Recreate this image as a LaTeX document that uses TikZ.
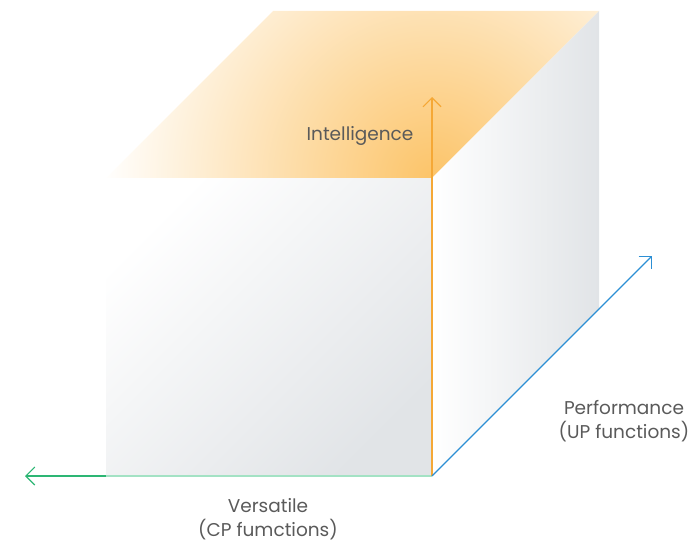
\documentclass[tikz,border=0pt]{standalone}
\usepackage{fontspec}
\setmainfont{Poppins}
\usetikzlibrary{arrows.meta}

\definecolor{facegray}{HTML}{E1E4E7}
\definecolor{glow}{HTML}{FCC469}
\definecolor{axisorange}{HTML}{F5A836}
\definecolor{axisblue}{HTML}{2C8FD4}
\definecolor{axisgreen}{HTML}{2DB674}
\definecolor{edgegreen}{HTML}{A3E2C4}
\definecolor{labelgray}{HTML}{5A5A5A}

\tikzset{
  axisarrow/.style={line width=1.1pt, -{Straight Barb[length=9pt,width=18pt,line width=1.1pt]}},
  axislabel/.style={text=labelgray, font=\fontsize{18.5}{24}\selectfont, align=center, inner sep=0pt}
}

\begin{document}
\begin{tikzpicture}[x=1pt,y=-1pt]
  \useasboundingbox (0,0) rectangle (696,543);

  % cube corners
  \coordinate (ftl) at (106,178);
  \coordinate (ftr) at (432,178);
  \coordinate (fbl) at (106,476);
  \coordinate (fbr) at (432,476);
  \coordinate (btl) at (273,11);
  \coordinate (btr) at (599,11);
  \coordinate (bbr) at (599,309);

  % axis ends
  \coordinate (intEnd) at (432,97);
  \coordinate (perfEnd) at (652,256);
  \coordinate (versEnd) at (25,476);

  % top face
  \begin{scope}
    \clip (ftl) -- (btl) -- (btr) -- (ftr) -- cycle;
    \shade[inner color=glow, outer color=white] (ftr) circle (330);
  \end{scope}

  % right face
  \shade[left color=white, right color=facegray] (ftr) -- (btr) -- (bbr) -- (fbr) -- cycle;

  % front face
  \shade[top color=white, bottom color=facegray, shading angle=45] (ftl) rectangle (fbr);
  \draw[edgegreen, line width=1.1pt] (fbl) -- (fbr);

  % axes
  \draw[axisarrow, axisgreen] (fbl) -- (versEnd);
  \draw[axisarrow, axisorange] (fbr) -- (intEnd);
  \draw[axisarrow, axisblue] (fbr) -- (perfEnd);

  \node[axislabel] (intelligence) at (360,136) {Intelligence};
  \node[axislabel] (versatile) at (268,519) {Versatile\\(CP fumctions)};
  \node[axislabel] (performance) at (624,421) {Performance\\(UP functions)};

\end{tikzpicture}
\end{document}
